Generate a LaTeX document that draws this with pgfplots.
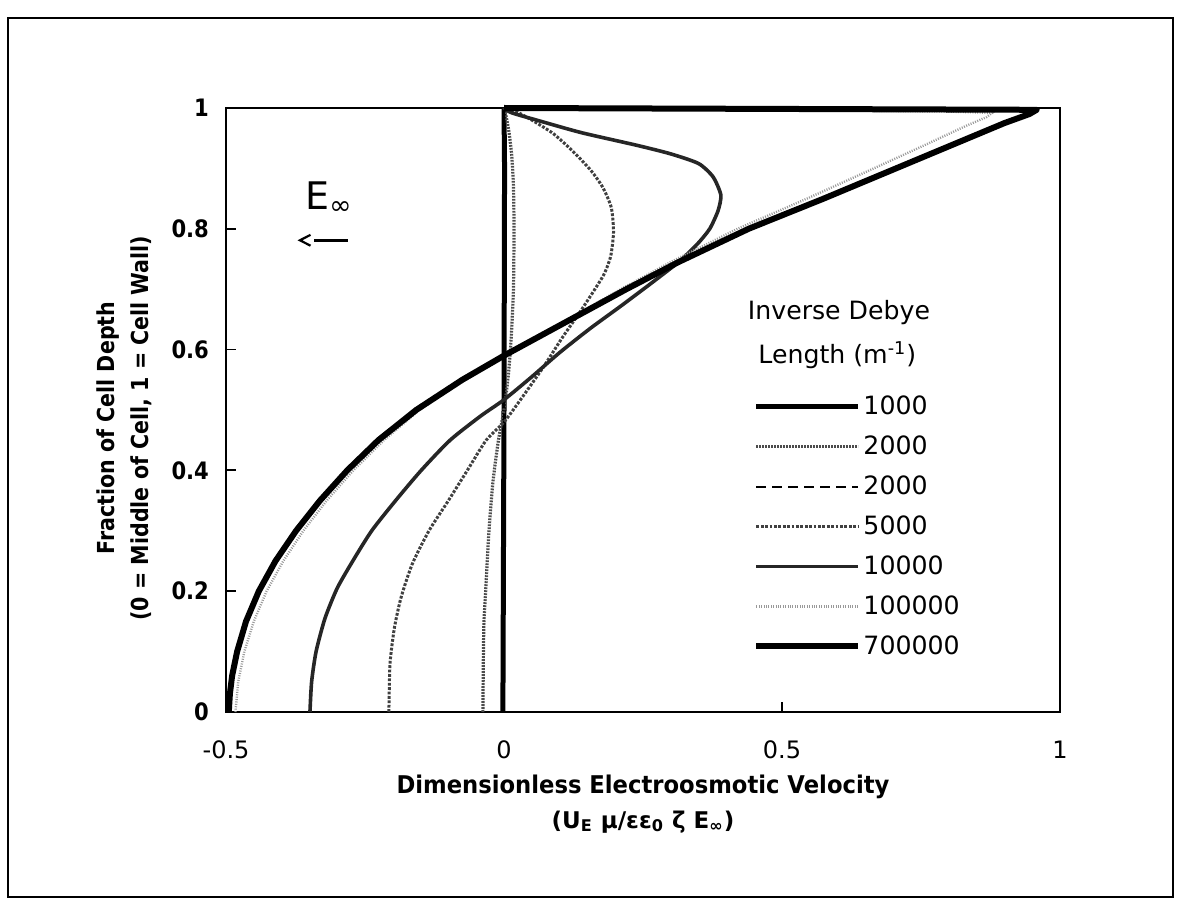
\documentclass[border=0pt]{standalone}
\usepackage{fontspec}
\setmainfont{DejaVu Sans}
\newfontfamily\narrowsans{DejaVu Sans}[FakeStretch=0.88]
\newfontfamily\labelsans{DejaVu Sans}[FakeStretch=0.93]
\usepackage{pgfplots}
\pgfplotsset{compat=1.18}

% velocity profiles: dimensionless velocity (u) against fraction of cell depth (y)
\pgfplotstableread{
u y
-0.002 0
0.000 0.5
0.001 0.9
0.000 1
}\kOne
\pgfplotstableread{
u y
-0.038 0
-0.037 0.1
-0.036 0.15
-0.033 0.2
-0.027 0.3
-0.020 0.38
-0.010 0.45
0.000 0.5
0.008 0.56
0.013 0.62
0.017 0.7
0.018 0.8
0.017 0.87
0.014 0.92
0.009 0.96
0.004 0.985
0.000 1
}\kTwo
\pgfplotstableread{
u y
-0.002 0
0.000 0.5
0.001 0.9
0.000 1
}\kTwoB
\pgfplotstableread{
u y
-0.207 0
-0.205 0.08
-0.197 0.14
-0.185 0.19
-0.165 0.245
-0.135 0.30
-0.100 0.35
-0.066 0.40
-0.032 0.45
0.000 0.48
0.032 0.52
0.070 0.57
0.105 0.62
0.135 0.66
0.160 0.695
0.180 0.725
0.192 0.755
0.197 0.795
0.193 0.835
0.178 0.868
0.156 0.897
0.122 0.93
0.088 0.958
0.050 0.98
0.024 0.993
0.000 1
}\kFive
\pgfplotstableread{
u y
-0.349 0
-0.346 0.05
-0.338 0.10
-0.322 0.155
-0.300 0.205
-0.272 0.25
-0.238 0.30
-0.195 0.35
-0.149 0.40
-0.097 0.45
-0.042 0.49
0.000 0.517
0.050 0.555
0.100 0.595
0.155 0.635
0.210 0.672
0.265 0.71
0.314 0.745
0.348 0.775
0.370 0.80
0.385 0.83
0.390 0.856
0.376 0.886
0.350 0.908
0.300 0.924
0.240 0.938
0.140 0.959
0.070 0.977
0.014 0.992
0.000 1
}\kTen
\pgfplotstableread{
u y
-0.483 0
-0.478 0.05
-0.467 0.10
-0.450 0.15
-0.427 0.20
-0.397 0.25
-0.361 0.30
-0.319 0.35
-0.271 0.40
-0.216 0.45
-0.152 0.50
-0.074 0.55
0.000 0.59
0.115 0.65
0.210 0.70
0.300 0.745
0.420 0.80
0.545 0.85
0.665 0.90
0.760 0.94
0.830 0.97
0.868 0.985
0.878 0.992
0.800 0.994
0.600 0.996
0.000 1
}\kHundred
\pgfplotstableread{
u y
-0.495 0
-0.493 0.03
-0.489 0.06
-0.480 0.10
-0.464 0.15
-0.441 0.20
-0.411 0.25
-0.374 0.30
-0.331 0.35
-0.282 0.40
-0.226 0.45
-0.158 0.50
-0.075 0.55
0.000 0.59
0.120 0.65
0.220 0.70
0.314 0.745
0.440 0.80
0.575 0.85
0.705 0.90
0.835 0.95
0.900 0.975
0.945 0.99
0.958 0.997
0.000 1
}\kSevenHundred

\begin{document}
\begin{tikzpicture}
\path[use as bounding box] (0,0) rectangle (591.5pt,452.5pt);
\draw[line width=1pt] (4pt,4pt) rectangle (586.5pt,443.5pt);
\begin{axis}[
  at={(113pt,96.5pt)}, anchor=south west,
  scale only axis, width=417pt, height=302pt,
  xmin=-0.5, xmax=1, ymin=0, ymax=1,
  clip=false,
  axis line style={line width=0.9pt},
  /pgf/number format/assume math mode=true,
  xtick={-0.5,0,0.5,1}, xticklabels={-0.5,0,0.5,1},
  ytick={0,0.2,0.4,0.6,0.8,1}, yticklabels={0,0.2,0.4,0.6,0.8,1},
  xtick pos=bottom, ytick pos=left, tick align=inside, major tick length=5pt,
  tick style={line width=0.9pt, black},
  xticklabel style={font=\fontsize{12}{14}\selectfont, yshift=-11pt},
  yticklabel style={font=\narrowsans\bfseries\fontsize{12}{14}\selectfont, xshift=-5pt},
  xlabel={Dimensionless Electroosmotic Velocity},
  xlabel style={font=\labelsans\bfseries\fontsize{12.2}{14}\selectfont,
    at={(axis description cs:0.5,-0.124)}, anchor=center},
  ylabel={Fraction of Cell Depth\\(0 = Middle of Cell, 1 = Cell Wall)},
  ylabel style={font=\narrowsans\bfseries\fontsize{11.7}{17}\selectfont, align=center,
    at={(axis description cs:-0.122,0.47)}, anchor=center},
  legend style={at={(axis description cs:0.632,0.527)}, anchor=north west,
    draw=none, fill=none, inner sep=0pt, row sep=7.1pt,
    font=\fontsize{12.6}{15}\selectfont,
    nodes={inner sep=1pt}},
  legend cell align=left,
  legend image code/.code={\draw[#1] (0pt,0pt) -- (51pt,0pt);},
]
\addplot[black, line width=2.5pt] table[x=u,y=y] {\kOne};
\addlegendentry{1000}
\addplot[black!70, line width=1.6pt, dash pattern=on 0.9pt off 0.6pt, smooth, tension=0.4]
  table[x=u,y=y] {\kTwo};
\addlegendentry{2000}
\addplot[black, line width=0.9pt, dash pattern=on 5pt off 3pt] table[x=u,y=y] {\kTwoB};
\addlegendentry{2000}
\addplot[black!75, line width=1.5pt, dash pattern=on 1.4pt off 0.8pt, smooth, tension=0.4]
  table[x=u,y=y] {\kFive};
\addlegendentry{5000}
\addplot[black!85, line width=1.8pt, smooth, tension=0.4] table[x=u,y=y] {\kTen};
\addlegendentry{10000}
\addplot[black!40, line width=1.2pt, dash pattern=on 0.5pt off 0.7pt] table[x=u,y=y] {\kHundred};
\addlegendentry{100000}
\addplot[black, line width=3pt, line join=round] table[x=u,y=y] {\kSevenHundred};
\addlegendentry{700000}

\node[font=\bfseries\fontsize{11.5}{13}\selectfont]
  at (axis description cs:0.5,-0.182)
  {(U\textsubscript{E} μ/εε\textsubscript{0} ζ E\textsubscript{∞})};
\node[font=\fontsize{12.6}{15}\selectfont] at (axis description cs:0.735,0.661) {Inverse Debye};
\node[font=\fontsize{12.6}{15}\selectfont] at (axis description cs:0.733,0.591) {Length (m\textsuperscript{-1})};
% field direction marker
\node[font=\fontsize{19}{20}\selectfont] at (axis cs:-0.315,0.851) {E\textsubscript{∞}};
\draw[line width=1.1pt, line join=miter]
  (axis cs:-0.348,0.790) -- (axis cs:-0.367,0.781) -- (axis cs:-0.348,0.772);
\draw[line width=1.5pt] (axis cs:-0.341,0.781) -- (axis cs:-0.281,0.781);
\end{axis}
\end{tikzpicture}
\end{document}
